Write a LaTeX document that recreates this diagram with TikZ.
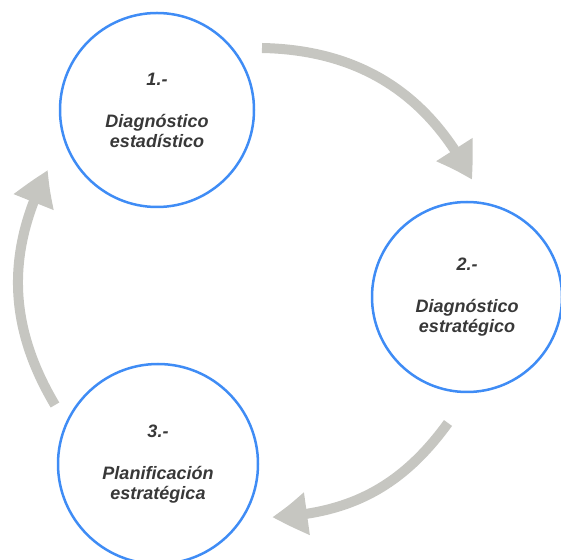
\documentclass[tikz,border=0pt]{standalone}
\usepackage{fontspec}
\setmainfont{Liberation Sans}
\usetikzlibrary{arrows.meta,bending}
\definecolor{ringblue}{HTML}{3F8CF5}
\definecolor{flowgray}{HTML}{C6C6C1}
\definecolor{txtgray}{HTML}{383838}

\begin{document}
\begin{tikzpicture}[x=1pt,y=1pt,
    stage/.style={circle,draw=ringblue,line width=2.5pt,inner sep=0pt,align=center,
      text=txtgray,font=\fontsize{18}{20}\selectfont\bfseries\itshape},
    flow/.style={draw=flowgray,line width=10pt,-{Triangle[width=40pt,length=36pt,bend]}}]
    \useasboundingbox (0,0) rectangle (561,559);
    % the three stages
    \node[stage,minimum size=194pt] (diag) at (157,449) {1.-\\[22pt]Diagnóstico\\estadístico};
    \node[stage,minimum size=190pt] (estr) at (467,262) {2.-\\[22pt]Diagnóstico\\estratégico};
    \node[stage,minimum size=200pt] (plan) at (158,95) {3.-\\[22pt]Planificación\\estratégica};

    % arrows round the cycle, clockwise
    \coordinate (f1a) at (262,511);
    \coordinate (f1b) at (472,379);
    \coordinate (f2a) at (448,136);
    \coordinate (f2b) at (272,42);
    \coordinate (f3a) at (55,154);
    \coordinate (f3b) at (48,389);
    \draw[flow] (f1a) to[bend left=31] (f1b);
    \draw[flow] (f2a) to[bend left=26] (f2b);
    \draw[flow] (f3a) to[bend left=29] (f3b);
\end{tikzpicture}
\end{document}
